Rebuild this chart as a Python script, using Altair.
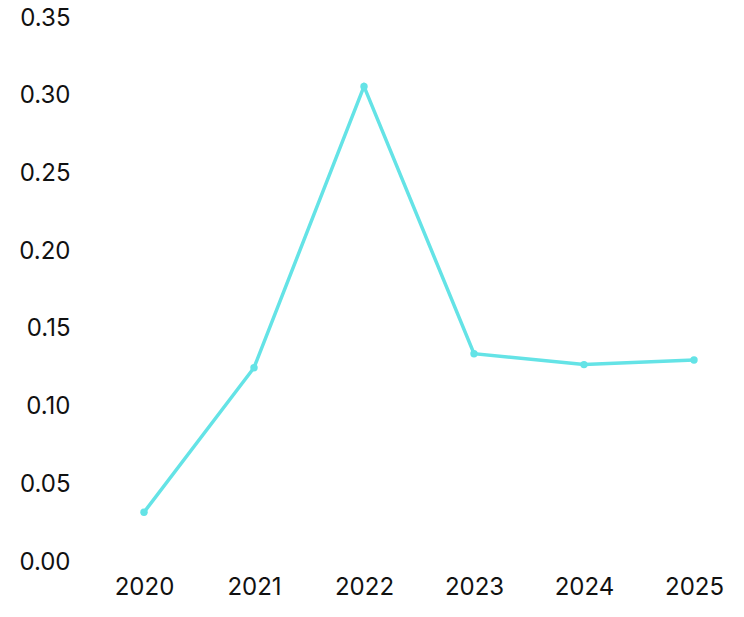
import altair as alt
import pandas as pd

years = ["2020", "2021", "2022", "2023", "2024", "2025"]
values = [0.032, 0.125, 0.306, 0.134, 0.127, 0.130]
y_ticks = [0.0, 0.05, 0.10, 0.15, 0.20, 0.25, 0.30, 0.35]

df = pd.DataFrame({"year": years, "value": values})

line_color = "#64E3E6"
font = "Inter"

base = alt.Chart(df).encode(
    x=alt.X(
        "year:O",
        sort=years,
        scale=alt.Scale(type="point", range=[64, 614], padding=0),
        axis=alt.Axis(
            title=None, labelAngle=0, domain=False, ticks=False, tickSize=0,
            grid=False, labelPadding=13, labelFontSize=24, labelFont=font,
            labelColor="#111111",
        ),
    ),
    y=alt.Y(
        "value:Q",
        scale=alt.Scale(domain=[0, 0.35], nice=False, zero=True),
        axis=alt.Axis(
            title=None, values=y_ticks, format=".2f", domain=False, ticks=False,
            tickSize=0, grid=False, labelPadding=10, labelFontSize=24,
            labelFont=font, labelColor="#111111",
        ),
    ),
)

line = base.mark_line(color=line_color, strokeWidth=3.5)
points = base.mark_circle(color=line_color, size=55, opacity=1)

chart = (line + points).properties(
    width=650,
    height=544,
    autosize=alt.AutoSizeParams(type="none"),
    padding={"left": 72, "top": 10, "right": 0, "bottom": 40},
).configure_view(stroke=None)

chart.save("out.html", embed_options={"renderer": "svg", "actions": False})
